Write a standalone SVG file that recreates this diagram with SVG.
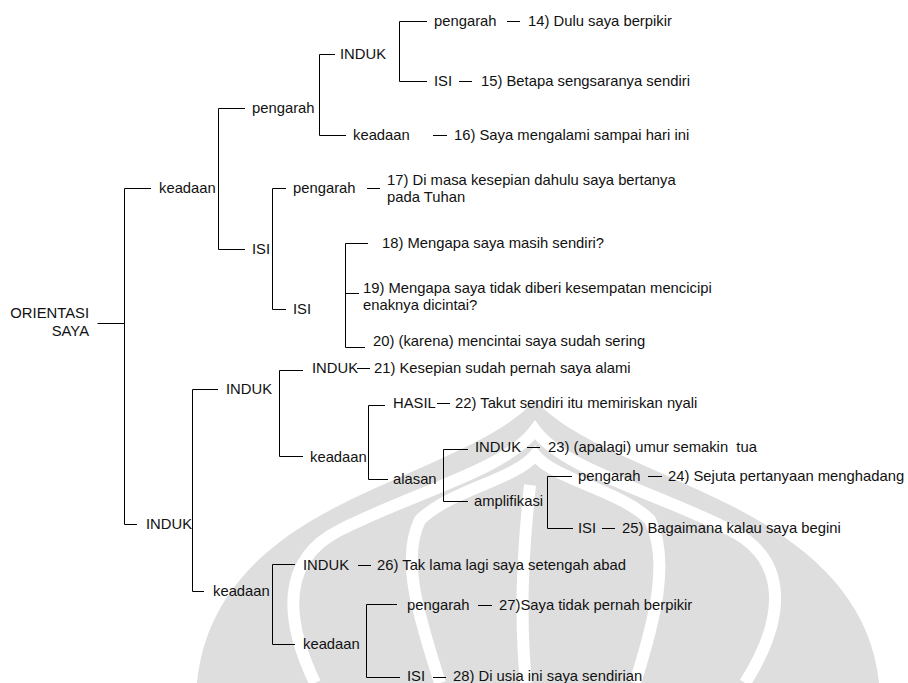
<svg xmlns="http://www.w3.org/2000/svg" width="908" height="683" viewBox="0 0 908 683">
<style>
text{font-family:"Liberation Sans",Arial,sans-serif;font-size:14.8px;fill:#111}
.c line,.c path{stroke:#000;stroke-width:1;fill:none}
.wm{fill:#dedede}
.wb{fill:none;stroke:#fff;stroke-width:12}
</style>
<rect width="908" height="683" fill="#fff"/>
<g id="watermark">
<path class="wm" d="M197 683 C205 600 260 545 340 505 C420 465 500 440 535 400 C570 440 650 465 730 505 C810 545 871 600 879 683 Z"/>
<path class="wb" d="M315 683 C285 620 280 560 340 530 C420 490 505 470 535 430 C565 470 650 490 730 530 C790 560 785 620 745 683"/>
<path class="wb" d="M440 683 C420 620 400 560 420 520 C450 490 515 480 535 455 C555 480 620 490 650 520 C670 560 655 620 635 683"/>
<path class="wb" d="M530 485 C522 560 520 620 526 683" stroke-width="10"/>
</g>
<g class="c" id="connectors">
<path d="M97.5 323.5H124.5M124.5 188.5V524.5M124.5 188.5H151M124.5 524.5H137"/>
<path d="M218.5 108.5V249.5M218.5 108.5H245M218.5 249.5H245"/>
<path d="M319.5 54.5V135.5M319.5 54.5H335M319.5 135.5H346"/>
<path d="M399.5 21.5V81.5M399.5 21.5H427M399.5 81.5H427"/>
<path d="M272.5 188.5V309.5M272.5 188.5H286M272.5 309.5H286"/>
<path d="M345.5 243.5V347.5M345.5 243.5H368M345.5 293.5H359M345.5 347.5H365"/>
<path d="M192.5 389.5V591.5M192.5 389.5H218M192.5 591.5H204"/>
<path d="M279.5 370.5V456.5M279.5 370.5H303M279.5 456.5H303"/>
<path d="M368.5 405.5V479.5M368.5 405.5H385M368.5 479.5H388"/>
<path d="M443.5 449.5V501.5M443.5 449.5H468M443.5 501.5H468"/>
<path d="M547.5 476.5V528.5M547.5 476.5H572M547.5 528.5H573"/>
<path d="M272.5 564.5V644.5M272.5 564.5H295M272.5 644.5H295"/>
<path d="M366.5 604.5V677.5M366.5 604.5H397M366.5 677.5H400"/>
<path d="M507 21.5H520M459 81.5H472M433 135.5H447M367 188.5H380M357 368.5H370M437 403.5H450M527 447.5H540M648 476.5H662M602 528.5H615M358 565.5H371M478 605.5H492M433 677.5H446"/>
</g>
<g id="n-orientasi"><text x="89" y="318" text-anchor="end">ORIENTASI</text><text x="89" y="336" text-anchor="end">SAYA</text></g>
<g id="n-keadaan1"><text x="159" y="193">keadaan</text></g>
<g id="n-induk-bottom"><text x="146" y="529">INDUK</text></g>
<g id="n-pengarah1"><text x="252" y="113">pengarah</text></g>
<g id="n-isi1"><text x="252" y="254">ISI</text></g>
<g id="n-induk1"><text x="340" y="59">INDUK</text></g>
<g id="n-keadaan16"><text x="353" y="140">keadaan</text><text x="454" y="140">16) Saya mengalami sampai hari ini</text></g>
<g id="n-pengarah14"><text x="434" y="26">pengarah</text><text x="528" y="26">14) Dulu saya berpikir</text></g>
<g id="n-isi15"><text x="434" y="86">ISI</text><text x="481" y="86">15) Betapa sengsaranya sendiri</text></g>
<g id="n-pengarah17"><text x="293" y="193">pengarah</text><text x="387" y="185">17) Di masa kesepian dahulu saya bertanya</text><text x="387" y="202">pada Tuhan</text></g>
<g id="n-isi2"><text x="293" y="314">ISI</text></g>
<g id="n-18"><text x="382" y="248">18) Mengapa saya masih sendiri?</text></g>
<g id="n-19"><text x="363" y="293">19) Mengapa saya tidak diberi kesempatan mencicipi</text><text x="363" y="310">enaknya dicintai?</text></g>
<g id="n-20"><text x="373" y="346">20) (karena) mencintai saya sudah sering</text></g>
<g id="n-induk2"><text x="226" y="394">INDUK</text></g>
<g id="n-keadaan2"><text x="213" y="596">keadaan</text></g>
<g id="n-induk21"><text x="312" y="373">INDUK</text><text x="374" y="373">21) Kesepian sudah pernah saya alami</text></g>
<g id="n-keadaan3"><text x="310" y="462">keadaan</text></g>
<g id="n-hasil22"><text x="393" y="408">HASIL</text><text x="455" y="408">22) Takut sendiri itu memiriskan nyali</text></g>
<g id="n-alasan"><text x="393" y="484">alasan</text></g>
<g id="n-induk23"><text x="475" y="452">INDUK</text><text x="548" y="452" xml:space="preserve">23) (apalagi) umur semakin  tua</text></g>
<g id="n-amplifikasi"><text x="474" y="506">amplifikasi</text></g>
<g id="n-pengarah24"><text x="578" y="481">pengarah</text><text x="668" y="481">24) Sejuta pertanyaan menghadang</text></g>
<g id="n-isi25"><text x="578" y="533">ISI</text><text x="622" y="533">25) Bagaimana kalau saya begini</text></g>
<g id="n-induk26"><text x="303" y="570">INDUK</text><text x="377" y="570">26) Tak lama lagi saya setengah abad</text></g>
<g id="n-keadaan4"><text x="303" y="649">keadaan</text></g>
<g id="n-pengarah27"><text x="407" y="610">pengarah</text><text x="499" y="610">27)Saya tidak pernah berpikir</text></g>
<g id="n-isi28"><text x="407" y="681">ISI</text><text x="453" y="681">28) Di usia ini saya sendirian</text></g>
</svg>
